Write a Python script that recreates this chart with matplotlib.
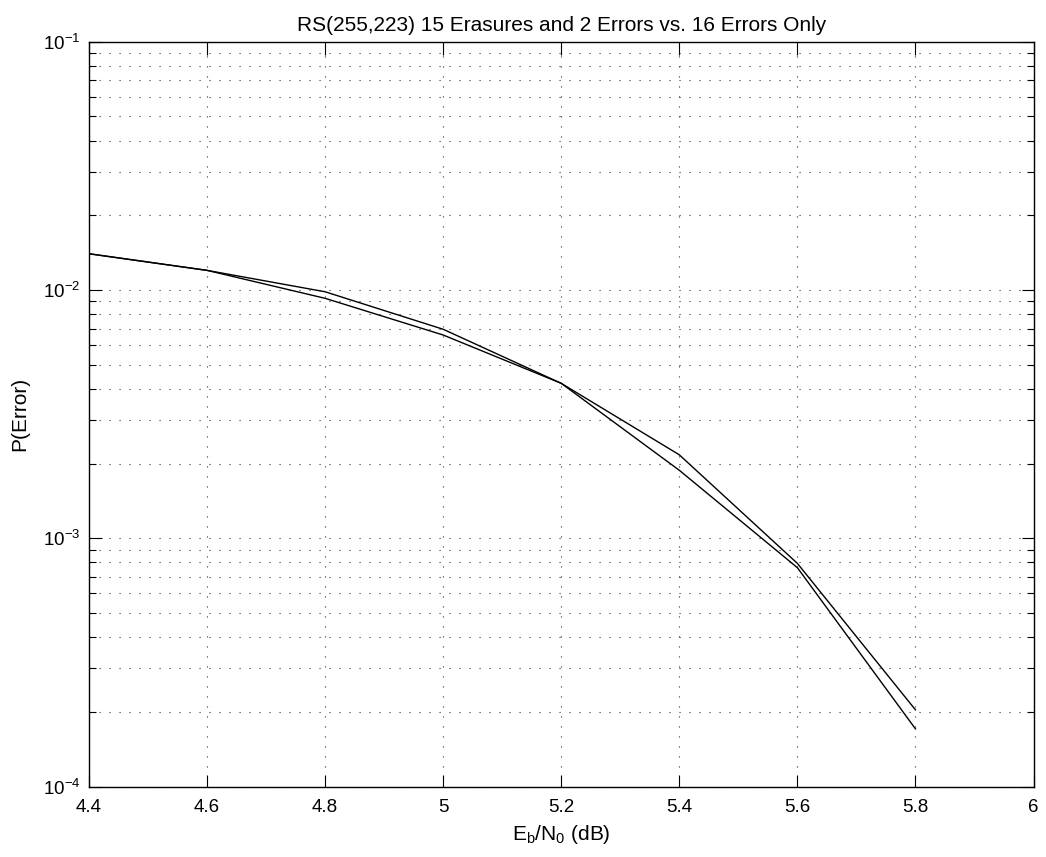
import matplotlib
matplotlib.use("Agg")
import matplotlib.pyplot as plt
from matplotlib.ticker import LogLocator, NullFormatter, FixedLocator

plt.rcParams['font.family'] = ['Liberation Sans', 'DejaVu Sans']

ebn0 = [4.4, 4.6, 4.8, 5.0, 5.2, 5.4, 5.6, 5.8]
erasures_and_errors = [0.0140, 0.0120, 0.00984, 0.00695, 0.00421, 0.00217, 0.000793, 0.000204]
errors_only = [0.0140, 0.0120, 0.00926, 0.00659, 0.00421, 0.00188, 0.000762, 0.000171]
xticks = [4.4, 4.6, 4.8, 5.0, 5.2, 5.4, 5.6, 5.8, 6.0]
xticklabels = ['4.4', '4.6', '4.8', '5', '5.2', '5.4', '5.6', '5.8', '6']

fig = plt.figure(figsize=(10.46, 8.57), dpi=100)
ax = fig.add_axes([89/1046, 1 - 786.7/857, (1033.5 - 89)/1046, (786.7 - 41.7)/857])

ax.semilogy(ebn0, erasures_and_errors, color='black', linewidth=1.0)
ax.semilogy(ebn0, errors_only, color='black', linewidth=1.0)

ax.set_xlim(4.4, 6.0)
ax.set_ylim(1e-4, 1e-1)
ax.xaxis.set_major_locator(FixedLocator(xticks))
ax.set_xticklabels(xticklabels)
ax.yaxis.set_major_locator(LogLocator(base=10, numticks=10))
ax.yaxis.set_minor_locator(LogLocator(base=10, subs=range(2, 10), numticks=20))
ax.yaxis.set_minor_formatter(NullFormatter())

grid_style = dict(linestyle=(0, (1, 8)), color='#333333', linewidth=0.8)
ax.grid(True, which='major', axis='both', **grid_style)
ax.grid(True, which='minor', axis='y', **grid_style)

ax.tick_params(which='both', direction='in', top=True, right=True, labelsize=13.5)
ax.tick_params(which='major', length=9, width=0.8)
ax.tick_params(which='minor', length=5, width=0.8)
ax.tick_params(axis='x', which='major', pad=9)
ax.tick_params(axis='y', which='major', pad=6)
for s in ax.spines.values():
    s.set_linewidth(1.0)

ax.set_title('RS(255,223) 15 Erasures and 2 Errors vs. 16 Errors Only', fontsize=15, pad=8)
ax.set_xlabel(r'E$_\mathregular{b}$/N$_\mathregular{0}$ (dB)', fontsize=15, labelpad=5)
ax.set_ylabel('P(Error)', fontsize=15, labelpad=10)

fig.savefig('out.png', dpi=100)
